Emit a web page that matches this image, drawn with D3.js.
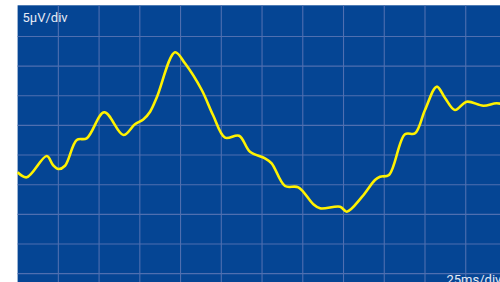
<!DOCTYPE html>
<html>
<head>
<meta charset="utf-8">
<script src="https://cdn.jsdelivr.net/npm/d3@7"></script>
<style>
  body { margin: 0; background: #ffffff; overflow: hidden; }
  svg { display: block; }
</style>
</head>
<body>
<div id="scope"></div>
<script>
var svgWidth = 500;
var svgHeight = 282;

// trace samples: time (ms) and amplitude (uV)
var timeMs = [0, 5.6, 17.9, 21.7, 25, 29.1, 36.3, 42.4, 53.2, 64.9, 72, 77.1, 81.3, 85.5,
  96.6, 102.7, 113, 119.9, 127.3, 135.9, 142.6, 151.8, 155.9, 164.1, 172.3, 181.3,
  185.6, 197.9, 202, 211.3, 219.3, 222.4, 227.9, 237.7, 243.9, 250, 257.2, 262.3,
  268.4, 275.6, 285.8, 294, 300];
var microVolts = [-2.9, -3.75, -0.16, -1.68, -2.35, -1.8, 2.54, 2.82, 7.21, 3.38, 5.19, 6.0, 7.31, 9.79,
  17.33, 15.47, 10.97, 6.75, 2.93, 3.26, 0.56, -0.55, -1.39, -5.22, -5.44, -8.25,
  -8.98, -8.71, -9.55, -7.07, -4.21, -3.65, -3.36, 3.5, 3.67, 7.6, 11.53, 9.62,
  7.6, 9.0, 8.32, 8.73, 8.4];

// graticule: 12 x 10 divisions
var xDivs = d3.range(0, 301, 25);
var yDivs = d3.range(-25, 26, 5);

var voltLabel = "5\u03bcV/div";
var timeLabel = "25ms/div";

var plot = { left: 17.6, top: 6.8, divW: 40.74, divH: 29.65 };

var svg = d3.select("#scope")
  .append("svg")
  .attr("width", svgWidth)
  .attr("height", svgHeight);

var xScale = d3.scaleLinear()
  .domain([0, 300])
  .range([plot.left, plot.left + plot.divW * 12]);

var yScale = d3.scaleLinear()
  .domain([25, -25])
  .range([plot.top, plot.top + plot.divH * 10]);

// screen background
svg.append("rect")
  .attr("x", plot.left)
  .attr("y", 5.3)
  .attr("width", svgWidth)
  .attr("height", svgHeight)
  .attr("fill", "#054594");

// grid lines
var gridGroup = svg.append("g")
  .attr("stroke", "#4f6fb0")
  .attr("stroke-width", 1.1);

gridGroup.selectAll("line.v")
  .data(xDivs.slice(1))
  .enter()
  .append("line")
  .attr("class", "v")
  .attr("x1", d => xScale(d))
  .attr("x2", d => xScale(d))
  .attr("y1", 5.3)
  .attr("y2", svgHeight);

gridGroup.selectAll("line.h")
  .data(yDivs.slice(0, -1))
  .enter()
  .append("line")
  .attr("class", "h")
  .attr("x1", plot.left)
  .attr("x2", svgWidth)
  .attr("y1", d => yScale(d))
  .attr("y2", d => yScale(d));

// the trace
var traceData = timeMs.map((t, i) => ({ t: t, v: microVolts[i] }));

var traceLine = d3.line()
  .x(d => xScale(d.t))
  .y(d => yScale(d.v))
  .curve(d3.curveCatmullRom.alpha(0.5));

svg.append("path")
  .datum(traceData)
  .attr("d", traceLine)
  .attr("fill", "none")
  .attr("stroke", "#fff200")
  .attr("stroke-width", 2.6)
  .attr("stroke-linejoin", "round");

// scale labels
svg.append("text")
  .attr("x", 22.5)
  .attr("y", 22)
  .attr("fill", "#e6ebf5")
  .attr("font-family", "Roboto, sans-serif")
  .attr("font-size", "13px")
  .text(voltLabel);

svg.append("text")
  .attr("x", 446.5)
  .attr("y", 283.5)
  .attr("fill", "#e6ebf5")
  .attr("font-family", "Roboto, sans-serif")
  .attr("font-size", "13px")
  .text(timeLabel);
</script>
</body>
</html>
